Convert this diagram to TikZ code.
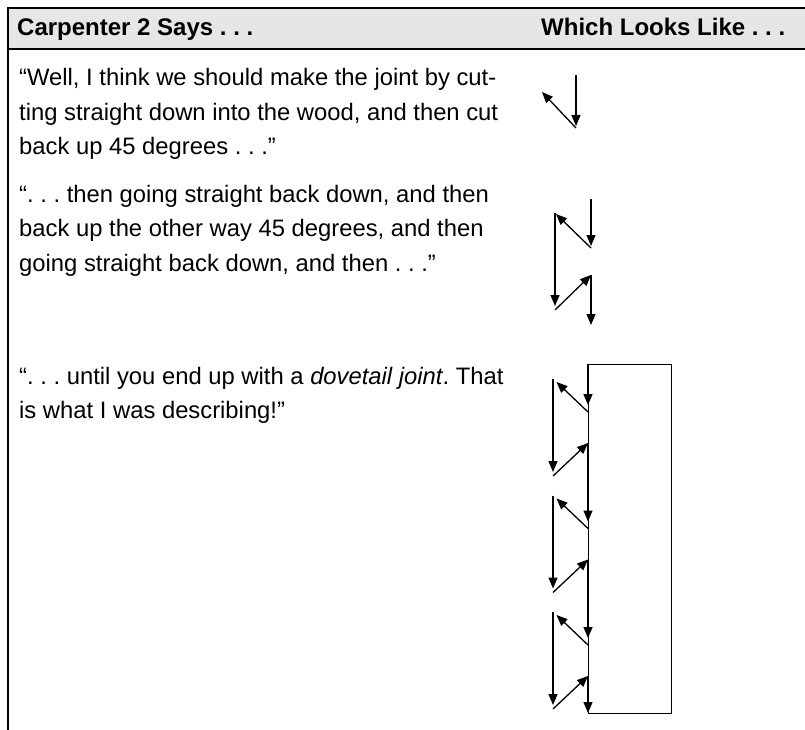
\documentclass[tikz,border=0pt]{standalone}
\usepackage{fontspec}
\setmainfont{Liberation Sans}
\usepackage{xcolor}
\usepackage{tikz}
\usetikzlibrary{arrows.meta,positioning}
\definecolor{hdrgray}{HTML}{E6E6E6}
\newcommand{\dts}{.~.~.}
\frenchspacing

\begin{document}
\begin{tikzpicture}[
  x=1pt,y=-1pt,
  rule/.style={line width=1.6pt},
  hdr/.style={anchor=base west,inner sep=0pt,font=\fontsize{24}{28}\selectfont\bfseries},
  says/.style={anchor=base west,inner sep=0pt,align=left,font=\fontsize{23.8}{34.5}\selectfont},
  arrow/.style={-{Triangle[length=11pt,width=9pt]},line width=1.3pt},
  board/.style={draw,line width=1.3pt,anchor=north west,minimum width=83pt,minimum height=349pt,inner sep=0pt}
]
\useasboundingbox (0,0) rectangle (805,730);
% table frame
\fill[hdrgray] (8,8) rectangle (805,49);
\draw[rule] (8,8) -- (805,8);
\draw[rule] (8,49) -- (805,49);
\draw[rule] (8,7.2) -- (8,730);
\node[hdr] (hsays) at (17,36) {Carpenter 2 Says \dts};
\node[hdr] (hlooks) at (541,36) {Which Looks Like \dts};

% row 1
\node[says] (say1) at (19,155) {“Well, I think we should make the joint by cut-\\ting straight down into the wood, and then cut\\back up 45 degrees \dts”};
\coordinate (a1) at (576,75);
\coordinate (a2) at (576,126);
\coordinate (a3) at (576,128);
\coordinate (a4) at (542,92);
\draw[arrow] (a1) -- (a2);
\draw[arrow] (a3) -- (a4);

% row 2
\node[says] (say2) at (19,271) {“\dts{} then going straight back down, and then\\back up the other way 45 degrees, and then\\going straight back down, and then \dts”};
\coordinate (b1) at (591,199);
\coordinate (b2) at (591,246);
\coordinate (b3) at (591,248);
\coordinate (b4) at (556,214);
\coordinate (b5) at (555,213);
\coordinate (b6) at (555,306);
\coordinate (b7) at (555,310);
\coordinate (b8) at (591,275);
\coordinate (b9) at (591,325);
\draw[arrow] (b1) -- (b2);
\draw[arrow] (b3) -- (b4);
\draw[arrow] (b5) -- (b6);
\draw[arrow] (b7) -- (b8);
\draw[arrow] (b8) -- (b9);

% row 3
\node[says] (say3) at (19,418.5) {“\dts{} until you end up with a \textit{dovetail joint}. That\\is what I was describing!”};
\node[board] (wood) at (588,364) {};
\coordinate (top) at (wood.north west);
\draw[arrow] (top) -- ++(0,41);
\foreach \k in {0,1,2} {
  \pgfmathsetmacro\o{116.5*\k}
  \pgfmathsetmacro\e{min(521.5+\o,713)}
  \coordinate (r\k) at (588,412+\o);
  \coordinate (l\k) at (556.5,382+\o);
  \coordinate (p\k) at (553,379+\o);
  \coordinate (q\k) at (553,472+\o);
  \coordinate (s\k) at (553,476+\o);
  \coordinate (u\k) at (588,443+\o);
  \coordinate (w\k) at (588,\e);
  \draw[arrow] (r\k) -- (l\k);
  \draw[arrow] (p\k) -- (q\k);
  \draw[arrow] (s\k) -- (u\k);
  \draw[arrow] (u\k) -- (w\k);
}
\end{tikzpicture}
\end{document}
